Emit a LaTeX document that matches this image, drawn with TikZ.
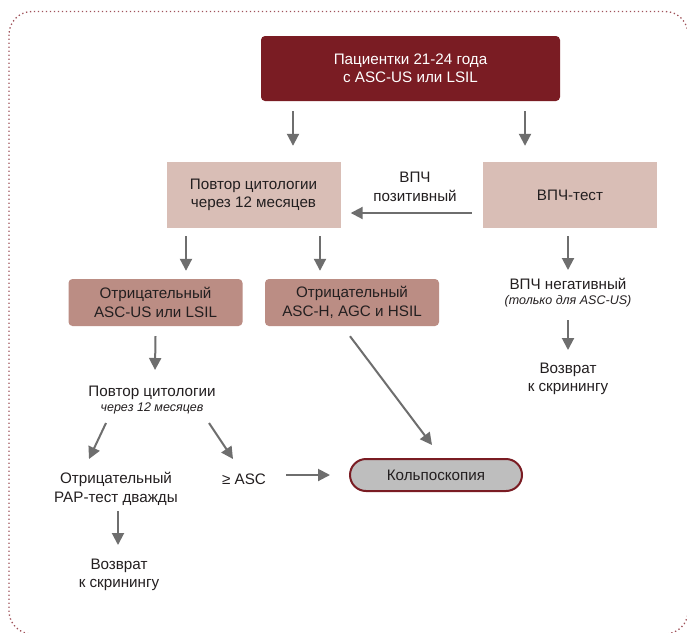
\documentclass[tikz,border=0pt]{standalone}
\usepackage{fontspec}
\setmainfont{Liberation Sans}
\usetikzlibrary{arrows.meta}
\definecolor{darkred}{HTML}{7A1C23}
\definecolor{lightrose}{HTML}{D9BEB6}
\definecolor{midrose}{HTML}{BB8D84}
\definecolor{pillgray}{HTML}{BEBEBE}
\definecolor{arrgray}{HTML}{6E6E6E}
\definecolor{txt}{HTML}{231F20}
\definecolor{framecol}{HTML}{A0535B}
\begin{document}
\begin{tikzpicture}[x=1pt,y=-1pt,
  every node/.style={font=\fontsize{15.2}{18.5}\selectfont, text=txt, align=center, inner sep=0pt},
  topbox/.style={fill=darkred, rounded corners=4pt, minimum width=299pt, minimum height=65pt, text=white},
  lightbox/.style={fill=lightrose, minimum width=174pt, minimum height=66pt},
  midbox/.style={fill=midrose, rounded corners=4pt, minimum width=174pt, minimum height=47pt},
  pill/.style={fill=pillgray, draw=darkred, line width=2pt, rounded corners=16pt, minimum width=172pt, minimum height=32pt},
  plain/.style={},
  arr/.style={draw=arrgray, line width=2pt, -{Triangle[width=12pt,length=12pt]}}
]
\useasboundingbox (0,0) rectangle (687,632);
\fill[white] (0,0) rectangle (687,632);
\begin{scope}
\clip (0,0) rectangle (687,632);
\draw[framecol, line width=1.3pt, dash pattern=on 1.3pt off 2.7pt, rounded corners=23pt] (9,11.5) rectangle (688,634);
\end{scope}

\node[topbox] (top) at (410.5,68.5) {Пациентки 21-24 года\\с ASC-US или LSIL};
\node[lightbox] (povtor) at (253.5,195) {Повтор цитологии\\через 12 месяцев};
\node[lightbox] (vpch) at (570,195) {ВПЧ-тест};
\node[plain] (vpchpos) at (415,187) {ВПЧ\\позитивный};
\node[midbox] (neg1) at (155.5,302.5) {Отрицательный\\ASC-US или LSIL};
\node[midbox] (neg2) at (352,302.5) {Отрицательный\\ASC-H, AGC и HSIL};
\node[plain] (povtor2) at (152,400) {Повтор цитологии\\[-3.5pt]{\fontsize{12.5}{14}\itshape через 12 месяцев}};
\node[plain] (negpap) at (116,489) {Отрицательный\\PAP-тест дважды};
\node[plain] (asc) at (244,479) {≥ ASC};
\node[pill] (kolpo) at (436,475) {Кольпоскопия};
\node[plain] (voz1) at (119,575) {Возврат\\к скринингу};
\node[plain] (vpchneg) at (568,293) {ВПЧ негативный\\[-3.5pt]{\fontsize{12.5}{14}\itshape (только для ASC-US)}};
\node[plain] (voz2) at (568,379) {Возврат\\к скринингу};

\draw[arr] ([xshift=-117.5pt,yshift=-10pt]top.south) -- ([xshift=39.5pt,yshift=16pt]povtor.north);
\draw[arr] ([xshift=114.5pt,yshift=-10pt]top.south) -- ([xshift=-45pt,yshift=16pt]vpch.north);
\draw[arr] ([xshift=-11pt,yshift=-18pt]vpch.west) -- ([xshift=10pt,yshift=-18pt]povtor.east);
\draw[arr] ([xshift=-67.5pt,yshift=-8pt]povtor.south) -- ([xshift=30.5pt,yshift=8pt]neg1.north);
\draw[arr] ([xshift=66.5pt,yshift=-8pt]povtor.south) -- ([xshift=-32pt,yshift=8pt]neg2.north);
\draw[arr] ([yshift=-10pt]neg1.south) -- ([xshift=3pt,yshift=30pt]povtor2.center);
\draw[arr] ([xshift=-46pt,yshift=-23pt]povtor2.center) -- ([xshift=-27pt,yshift=30pt]negpap.center);
\draw[arr] ([xshift=57pt,yshift=-23pt]povtor2.center) -- ([xshift=-11pt,yshift=20pt]asc.center);
\draw[arr] ([xshift=42pt,yshift=4pt]asc.center) -- ([xshift=-19pt]kolpo.west);
\draw[arr] ([xshift=-2pt,yshift=-10pt]neg2.south) -- ([xshift=-4pt,yshift=13pt]kolpo.north);
\draw[arr] ([xshift=2pt,yshift=-22pt]negpap.center) -- ([xshift=-1pt,yshift=30pt]voz1.center);
\draw[arr] ([xshift=-2pt,yshift=-8pt]vpch.south) -- ([yshift=23pt]vpchneg.center);
\draw[arr] ([yshift=-27pt]vpchneg.center) -- ([yshift=29pt]voz2.center);
\end{tikzpicture}
\end{document}
